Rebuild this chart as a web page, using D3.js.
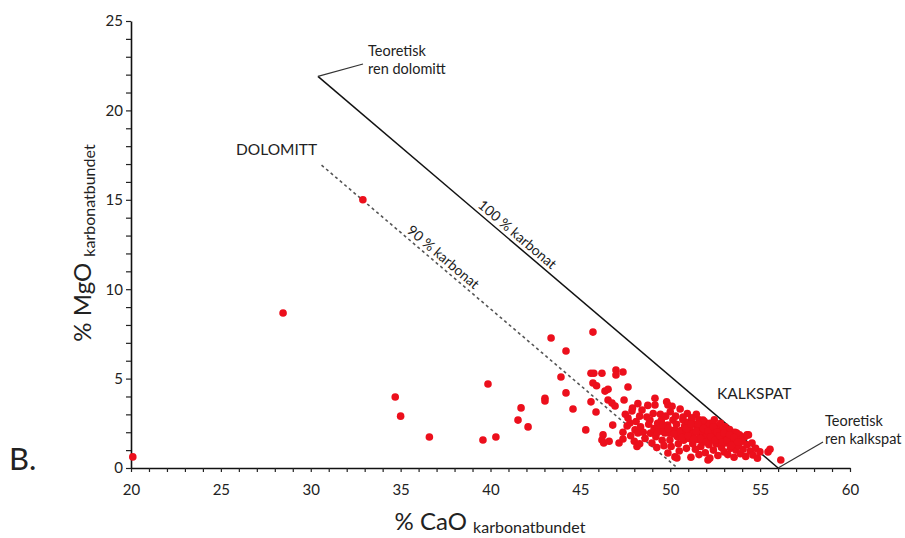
<!DOCTYPE html>
<html>
<head>
<meta charset="utf-8">
<script src="https://cdn.jsdelivr.net/npm/d3@7"></script>
<style>
  body { margin: 0; background: #fff; }
  svg { display: block; }
  text { font-family: 'Lato', 'Open Sans', sans-serif; fill: #222; }
</style>
</head>
<body>
<svg id="chart"></svg>
<script>
// ---- data: [CaO, MgO] ----
const scatteredSamples = [
  [20.1, 0.62], [28.46, 8.67], [32.9, 15.0], [34.7, 3.97], [35.0, 2.9], [36.6, 1.73],
  [39.58, 1.57], [40.3, 1.73], [39.86, 4.7], [41.7, 3.36], [41.53, 2.68], [42.09, 2.3],
  [43.03, 3.9], [43.03, 3.75], [43.37, 7.27], [44.2, 6.54], [43.92, 5.09], [44.2, 4.2],
  [44.59, 3.3], [45.7, 7.6], [45.3, 2.13]
];

const middleSamples = [
  [45.59, 5.3], [45.75, 5.3], [46.2, 5.3], [46.98, 5.48], [47.37, 5.37], [46.98, 5.2],
  [45.7, 4.75], [45.9, 4.6], [46.37, 4.3], [46.54, 4.4], [47.65, 4.53], [45.59, 3.7],
  [45.87, 3.13], [46.54, 3.8], [46.76, 3.63], [46.93, 3.47], [47.43, 3.8], [46.8, 2.4],
  [46.26, 1.85], [46.2, 1.57], [46.3, 1.4], [46.6, 1.5], [47.15, 1.4], [47.37, 1.62],
  [47.37, 2.0], [47.87, 3.19], [47.65, 2.8], [47.76, 2.52], [48.04, 2.13], [48.2, 1.96],
  [48.43, 3.24], [48.7, 2.85], [48.87, 2.68], [49.15, 3.9], [49.15, 3.52], [49.8, 3.7],
  [49.87, 3.52], [49.3, 2.5], [49.4, 2.24], [49.7, 1.96], [48.98, 1.4], [49.98, 1.57],
  [49.87, 0.84], [50.26, 0.62], [50.15, 2.68], [50.26, 2.13]
];

const clusterSamples = [
  [47.5, 3.0], [47.6, 2.35], [47.8, 1.8], [47.9, 3.35], [48.1, 2.6], [48.0, 1.5],
  [48.2, 3.6], [48.3, 2.9], [48.35, 2.3], [48.15, 1.2], [48.5, 2.0], [48.6, 1.65],
  [48.75, 3.5], [48.8, 2.45], [48.9, 1.95], [49.05, 3.05], [49.1, 2.2], [49.2, 1.75],
  [49.25, 1.15], [49.45, 3.0], [49.5, 2.65], [49.55, 1.55], [49.6, 2.05], [49.65, 1.25],
  [49.75, 2.9], [49.85, 2.4], [49.95, 1.95], [50.0, 3.15], [50.05, 1.2], [50.1, 3.45],
  [50.3, 2.9], [50.35, 2.45], [50.4, 1.75], [50.45, 1.35], [50.5, 0.95], [50.55, 3.3],
  [50.6, 2.1], [50.7, 2.7], [50.75, 1.55], [50.8, 2.35], [50.85, 1.9], [50.9, 1.1],
  [50.95, 3.05], [51.0, 2.55], [51.05, 1.65], [51.1, 2.15], [51.15, 0.6], [51.2, 2.8],
  [51.25, 1.35], [51.3, 1.95], [51.35, 2.45], [51.4, 1.05], [51.45, 3.0], [51.5, 2.2],
  [51.55, 1.6], [51.6, 2.7], [51.65, 1.85], [51.7, 1.2], [51.75, 2.35], [51.8, 2.0],
  [51.85, 1.45], [51.9, 2.6], [51.95, 0.85], [52.0, 1.75], [52.05, 2.25], [52.1, 0.45],
  [52.15, 1.3], [52.2, 2.5], [52.25, 1.95], [52.3, 1.55], [52.35, 2.15], [52.4, 1.0],
  [52.45, 2.7], [52.5, 1.8], [52.55, 1.35], [52.6, 2.3], [52.65, 0.7], [52.7, 1.95],
  [52.75, 1.55], [52.8, 2.5], [52.85, 1.15], [52.9, 2.1], [52.95, 1.75], [53.0, 0.9],
  [53.05, 2.3], [53.1, 1.4], [53.15, 1.95], [53.2, 0.75], [53.25, 1.65], [53.3, 2.15],
  [53.35, 1.1], [53.45, 1.85], [53.5, 1.4], [53.55, 0.6], [53.6, 2.0], [53.65, 1.0],
  [53.7, 1.6], [53.8, 1.25], [53.85, 1.85], [53.9, 0.8], [54.0, 1.5], [54.05, 1.05],
  [54.15, 1.75], [54.2, 0.65], [54.27, 1.3], [54.35, 1.85], [54.45, 0.95], [54.55, 1.4],
  [54.6, 0.73], [54.75, 1.1], [54.85, 0.55], [54.99, 0.9], [55.44, 0.9], [55.55, 1.05],
  [56.15, 0.45], [50.37, 0.56], [50.71, 2.85], [51.21, 2.8], [51.82, 2.68], [52.38, 2.52],
  [52.93, 2.12], [53.7, 1.96], [54.27, 1.85], [51.6, 0.75], [52.2, 0.55], [48.3, 1.35]
];

// extra points filling the dense core of the cluster
const coreSamples = [
  [50.5, 2.0], [50.65, 1.7], [50.9, 2.2], [51.0, 1.8], [51.15, 2.45], [51.3, 1.6],
  [51.45, 2.05], [51.55, 2.45], [51.7, 1.65], [51.85, 2.2], [52.0, 1.45], [52.1, 2.05],
  [52.25, 1.75], [52.4, 2.3], [52.5, 1.55], [52.6, 2.0], [52.75, 1.8], [52.9, 1.45],
  [53.0, 1.95], [53.15, 1.55], [53.3, 1.85], [53.4, 1.25], [53.55, 1.7], [53.75, 1.45],
  [49.3, 2.0], [49.6, 2.4], [49.9, 2.2], [50.2, 1.9]
];

const xTicks = d3.range(20, 61, 1);
const yTicks = d3.range(0, 26, 1);

// reference lines: theoretical pure dolomite -> pure calcite
const pureLine = [[30.4, 21.9], [56.0, 0]];
const ninetyLine = [[30.6, 16.94], [50.4, 0]];

const svgWidth = 905;
const svgHeight = 538;

const svg = d3.select("#chart")
  .attr("width", svgWidth)
  .attr("height", svgHeight);

const xScale = d3.scaleLinear().domain([20, 60]).range([131, 850]);
const yScale = d3.scaleLinear().domain([0, 25]).range([468, 21]);

// axes
const xAxis = d3.axisBottom(xScale)
  .tickValues(xTicks)
  .tickSize(4)
  .tickSizeOuter(0)
  .tickPadding(12)
  .tickFormat((d) => (d % 5 === 0 ? d : ""));

const yAxis = d3.axisLeft(yScale)
  .tickValues(yTicks)
  .tickSize(5)
  .tickSizeOuter(0)
  .tickPadding(3)
  .tickFormat((d) => (d % 5 === 0 ? d : ""));

const gx = svg.append("g")
  .attr("transform", `translate(0, ${yScale(0)})`)
  .call(xAxis);

const gy = svg.append("g")
  .attr("transform", `translate(${xScale(20)}, 0)`)
  .call(yAxis);

[gx, gy].forEach((g) => {
  g.select(".domain").attr("stroke", "#111").attr("stroke-width", 1.6);
  g.selectAll(".tick line").attr("stroke", "#222").attr("stroke-width", 1.2);
  g.selectAll(".tick text")
    .style("font-family", "'Lato', sans-serif")
    .style("font-size", "15px")
    .attr("fill", "#333");
});

// 100 % line
const line = d3.line()
  .x((d) => xScale(d[0]))
  .y((d) => yScale(d[1]));

svg.append("path")
  .datum(pureLine)
  .attr("d", line)
  .attr("fill", "none")
  .attr("stroke", "#111")
  .attr("stroke-width", 1.5);

svg.append("path")
  .datum(ninetyLine)
  .attr("d", line)
  .attr("fill", "none")
  .attr("stroke", "#555")
  .attr("stroke-width", 1.6)
  .attr("stroke-dasharray", "3 3");

// points
const allSamples = scatteredSamples.concat(middleSamples, clusterSamples, coreSamples);

svg.append("g")
  .selectAll("circle")
  .data(allSamples)
  .enter()
  .append("circle")
  .attr("cx", (d) => xScale(d[0]))
  .attr("cy", (d) => yScale(d[1]))
  .attr("r", 3.8)
  .attr("fill", "#ec0f1c");

// angle of the carbonate lines in screen space
const angle = Math.atan2(
  yScale(pureLine[1][1]) - yScale(pureLine[0][1]),
  xScale(pureLine[1][0]) - xScale(pureLine[0][0])
) * 180 / Math.PI;

function lineLabel(pts, cao, label) {
  const t = (cao - pts[0][0]) / (pts[1][0] - pts[0][0]);
  const mgo = pts[0][1] + t * (pts[1][1] - pts[0][1]);
  svg.append("text")
    .attr("transform", `translate(${xScale(cao)}, ${yScale(mgo)}) rotate(${angle})`)
    .attr("y", -4)
    .attr("text-anchor", "middle")
    .style("font-size", "14px")
    .text(label);
}

lineLabel(pureLine, 41.17, "100 % karbonat");
lineLabel(ninetyLine, 37.05, "90 % karbonat");

// leader lines for the theoretical end members
svg.append("line")
  .attr("x1", xScale(pureLine[0][0])).attr("y1", yScale(pureLine[0][1]))
  .attr("x2", 363).attr("y2", 64)
  .attr("stroke", "#333").attr("stroke-width", 1.2);

svg.append("line")
  .attr("x1", xScale(pureLine[1][0])).attr("y1", yScale(pureLine[1][1]))
  .attr("x2", 823).attr("y2", 442)
  .attr("stroke", "#333").attr("stroke-width", 1.2);

function twoLine(x, y, a, b) {
  const t = svg.append("text").style("font-size", "14.5px");
  t.append("tspan").attr("x", x).attr("y", y).text(a);
  t.append("tspan").attr("x", x).attr("y", y + 18).text(b);
}

twoLine(368, 56, "Teoretisk", "ren dolomitt");
twoLine(825, 426, "Teoretisk", "ren kalkspat");

svg.append("text")
  .attr("x", 236).attr("y", 155)
  .style("font-size", "15.5px")
  .text("DOLOMITT");

svg.append("text")
  .attr("x", 717).attr("y", 399)
  .style("font-size", "15.5px")
  .text("KALKSPAT");

svg.append("text")
  .attr("x", 9).attr("y", 470)
  .style("font-size", "31px")
  .text("B.");

// axis titles
const xTitle = svg.append("text")
  .attr("x", 490).attr("y", 530)
  .attr("text-anchor", "middle");
xTitle.append("tspan").style("font-size", "24px").text("% CaO ");
xTitle.append("tspan").attr("dy", 3).style("font-size", "16px").text("karbonatbundet");

const yTitle = svg.append("text")
  .attr("transform", "translate(91, 243) rotate(-90)")
  .attr("text-anchor", "middle");
yTitle.append("tspan").style("font-size", "24px").text("% MgO ");
yTitle.append("tspan").attr("dy", 4).style("font-size", "16px").text("karbonatbundet");
</script>
</body>
</html>
